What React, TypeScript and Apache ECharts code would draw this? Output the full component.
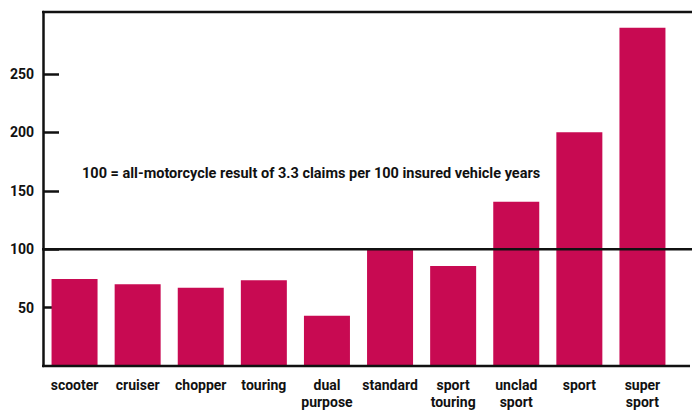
import React, { useEffect, useRef } from "react";
import * as echarts from "echarts";

const categories = [
  "scooter",
  "cruiser",
  "chopper",
  "touring",
  "dual\npurpose",
  "standard",
  "sport\ntouring",
  "unclad\nsport",
  "sport",
  "super\nsport",
];
const claimIndex = [74.5, 70, 67, 73.5, 43, 100, 85.5, 140.5, 200, 289.5];
const yTicks = [50, 100, 150, 200, 250];
const referenceValue = 100;
const note = "100 = all-motorcycle result of 3.3 claims per 100 insured vehicle years";

const FONT = "Roboto, 'Liberation Sans', Arial, sans-serif";
const BAR = "#C80A52";
const INK = "#111111";

export default function App() {
  const ref = useRef<HTMLDivElement>(null);
  useEffect(() => {
    if (!ref.current) return;
    const chart = echarts.init(ref.current, null, { renderer: "svg" });
    const yMax = 303;
    chart.setOption({
      animation: false,
      backgroundColor: "#ffffff",
      textStyle: { fontFamily: FONT },
      grid: { left: 43, right: 18, top: 12, bottom: 45, containLabel: false },
      xAxis: {
        type: "category",
        data: categories,
        axisLine: { show: false },
        axisTick: { show: false },
        axisLabel: {
          color: INK,
          fontFamily: FONT,
          fontWeight: "bold",
          fontSize: 14,
          lineHeight: 17,
          margin: 10,
          interval: 0,
        },
      },
      yAxis: {
        type: "value",
        min: 0,
        max: yMax,
        interval: 50,
        splitLine: { show: false },
        axisLine: { show: true, lineStyle: { color: INK, width: 2.5 } },
        axisTick: {
          show: true,
          inside: true,
          length: 16,
          customValues: yTicks,
          lineStyle: { color: INK, width: 2.5 },
        },
        axisLabel: {
          color: INK,
          fontFamily: FONT,
          fontWeight: "bold",
          fontSize: 14,
          margin: 9,
          customValues: yTicks,
        },
      },
      series: [
        {
          type: "bar",
          data: claimIndex,
          barWidth: 46,
          itemStyle: { color: BAR },
        },
      ],
    });
    const y0 = chart.convertToPixel({ yAxisIndex: 0 }, 0) as number;
    const yRef = chart.convertToPixel({ yAxisIndex: 0 }, referenceValue) as number;
    const yTop = chart.convertToPixel({ yAxisIndex: 0 }, yMax) as number;
    const xL = 42;
    const xR = 692;
    const ls = { stroke: INK, lineWidth: 2.5 };
    chart.setOption({
      graphic: [
        { type: "line", z: 100, shape: { x1: xL, y1: yTop, x2: xR, y2: yTop }, style: ls },
        { type: "line", z: 100, shape: { x1: xL, y1: y0, x2: 690, y2: y0 }, style: ls },
        { type: "line", z: 100, shape: { x1: xL, y1: yRef, x2: xR, y2: yRef }, style: ls },
        {
          type: "text",
          z: 100,
          left: 82,
          top: 166,
          style: {
            text: note,
            fill: INK,
            font: `bold 14.5px ${FONT}`,
          },
        },
      ],
    });
    return () => chart.dispose();
  }, []);
  return (
    <div
      ref={ref}
      style={{ position: "fixed", left: 0, top: 0, width: 692, height: 411 }}
    />
  );
}
